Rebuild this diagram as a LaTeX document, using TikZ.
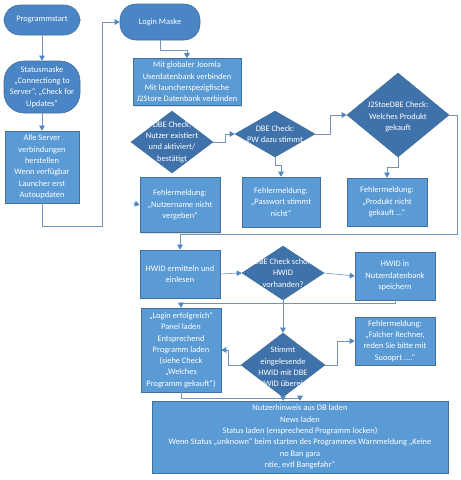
\documentclass[tikz,border=0pt]{standalone}
\usepackage{fontspec}
\setmainfont{Carlito}
\usetikzlibrary{shapes.geometric,arrows.meta,shadows}
\definecolor{boxfill}{HTML}{5B9BD5}
\definecolor{boxline}{HTML}{41719C}
\definecolor{termfill}{HTML}{4A85C5}
\definecolor{diafill}{HTML}{3F72AA}
\definecolor{conncol}{HTML}{7393BA}
\definecolor{tipcol}{HTML}{4F86C2}
\tikzset{
  every node/.style={font=\fontsize{8.4}{11.3}\selectfont, text=white, align=center, inner sep=0pt},
  procbox/.style={draw=boxline, line width=0.6pt, fill=boxfill, rectangle,
     drop shadow={shadow xshift=1.2pt, shadow yshift=-1.2pt, opacity=0.25}},
  termbox/.style={draw=boxline, line width=0.6pt, fill=termfill, rectangle, rounded corners=16pt},
  diabox/.style={draw=boxline, line width=0.6pt, fill=diafill, diamond},
  conn/.style={draw=conncol, line width=0.6pt, -{Triangle[length=5pt,width=5.5pt,color=tipcol]}},
}
\begin{document}
\begin{tikzpicture}[x=1pt,y=-1pt]
\useasboundingbox (0,0) rectangle (461,480);
\fill[white] (0,0) rectangle (461,480);

% left column
\node[termbox, minimum width=76pt, minimum height=30pt] (ps) at (42,20) {Programmstart};
\node[termbox, rounded corners=20pt, minimum width=76pt, minimum height=52pt] (sm) at (42,87) {Statusmaske\\„Connectiong to\\Server“, „Check for\\Updates“};
\node[procbox, minimum width=74pt, minimum height=72pt] (as) at (42,167) {Alle Server\\verbindungen\\herstellen\\Wenn verfügbar\\Launcher erst\\Autoupdaten};

\node[termbox, minimum width=80pt, minimum height=36pt] (lm) at (160,22) {Login Maske};

% diamonds row 1
\node[diabox, minimum width=82pt, minimum height=62pt] (d1) at (172,142) {};
\node (d1t) at (172,142) {DBE Check:\\Nutzer existiert\\und aktiviert/\\bestätigt};
\node[procbox, minimum width=108pt, minimum height=47pt] (jm) at (187,82) {Mit globaler Joomla\\Userdatenbank verbinden\\Mit launcherspezigfische\\J2Store Datenbank verbinden};

\node[diabox, minimum width=80pt, minimum height=46pt] (d2) at (275,134) {};
\node (d2t) at (275,134) {DBE Check:\\PW dazu stimmt};

\node[diabox, minimum width=102pt, minimum height=84pt] (d3) at (398,115) {};
\node (d3t) at (398,117) {J2StoeDBE Check:\\Welches Produkt\\gekauft};

% error boxes row 1
\node[procbox, minimum width=80pt, minimum height=55pt] (f1) at (180,205) {Fehlermeldung:\\„Nutzername nicht\\vergeben“};
\node[procbox, minimum width=78pt, minimum height=50pt] (f2) at (281,202) {Fehlermeldung:\\„Passwort stimmt\\nicht“};
\node[procbox, minimum width=80pt, minimum height=48pt] (f3) at (387,202) {Fehlermeldung:\\„Produkt nicht\\gekauft ...“};

% HWID row
\node[procbox, minimum width=80pt, minimum height=48pt] (hw) at (180,274) {HWID ermitteln und\\einlesen};
\node[diabox, minimum width=82pt, minimum height=54pt] (d4) at (283,273) {};
\node (d4t) at (283,273) {DBE Check schon\\HWID\\vorhanden?};
\node[procbox, minimum width=80pt, minimum height=48pt] (hs) at (395,276) {HWID in\\Nutzerdatenbank\\speichern};

% login ok row
\node[procbox, minimum width=80pt, minimum height=84pt] (le) at (181,350) {„Login erfolgreich“\\Panel laden\\Entsprechend\\Programm laden\\(siehe Check\\„Welches\\Programm gekauft“)};
\node[diabox, minimum width=84pt, minimum height=64pt] (d5) at (283,365) {};
\node (d5t) at (283,367) {Stimmt\\eingelesende\\HWID mit DBE\\HWID überein};
\node[procbox, minimum width=80pt, minimum height=48pt] (fr) at (395,341) {Fehlermeldung:\\„Falcher Rechner,\\reden Sie bitte mit\\Suooprt ....“};

% bottom box
\node[procbox, minimum width=296pt, minimum height=72pt] (bb) at (300,437) {Nutzerhinweis aus DB laden\\News laden\\Status laden (ensprechend Programm locken)\\Wenn Status „unknown“ beim starten des Programmes Warnmeldung „Keine\\no Ban gara\\ntie, evtl Bangefahr“};

% connectors
\coordinate (c1) at (102,226);
\coordinate (c2) at (133,203);
\coordinate (c3) at (457,234);
\draw[conn] (ps.south) -- (sm.north);
\draw[conn] (sm.south) -- (as.north);
\draw[conn] (as.south) |- (c1) |- (lm.west);
\draw[conn] (lm.south) -- ++(0,10) -| (jm.north);
\draw[conn] (c2) -- (f1.west);
\draw[conn] (d1.east) -- ++(12,0) |- (d2.west);
\draw[conn] (d2.east) -- ++(15,0) |- (d3.west);
\draw[conn] (d2.south) -- ++(0,8) -| (f2.north);
\draw[conn] (d3.south) -- ++(0,10) -| (f3.north);
\draw[conn] (d3.east) -| (c3) -| (hw.north);
\draw[conn] (hw.east) -- (d4.west);
\draw[conn] (d4.east) -- (hs.west);
\draw[conn] (hs.south) -- ++(0,3) -| (le.north);
\draw[conn] (d4.south) -- (d5.north);
\draw[conn] (d5.west) -- ++(-12,0) |- (le.east);
\draw[conn] (d5.east) -- ++(12,0) |- (fr.west);
\draw[conn] (le.south) -- ++(0,6) -| (bb.north);
\draw[conn] (d5.south) -- (d5.south |- bb.north);
\end{tikzpicture}
\end{document}
